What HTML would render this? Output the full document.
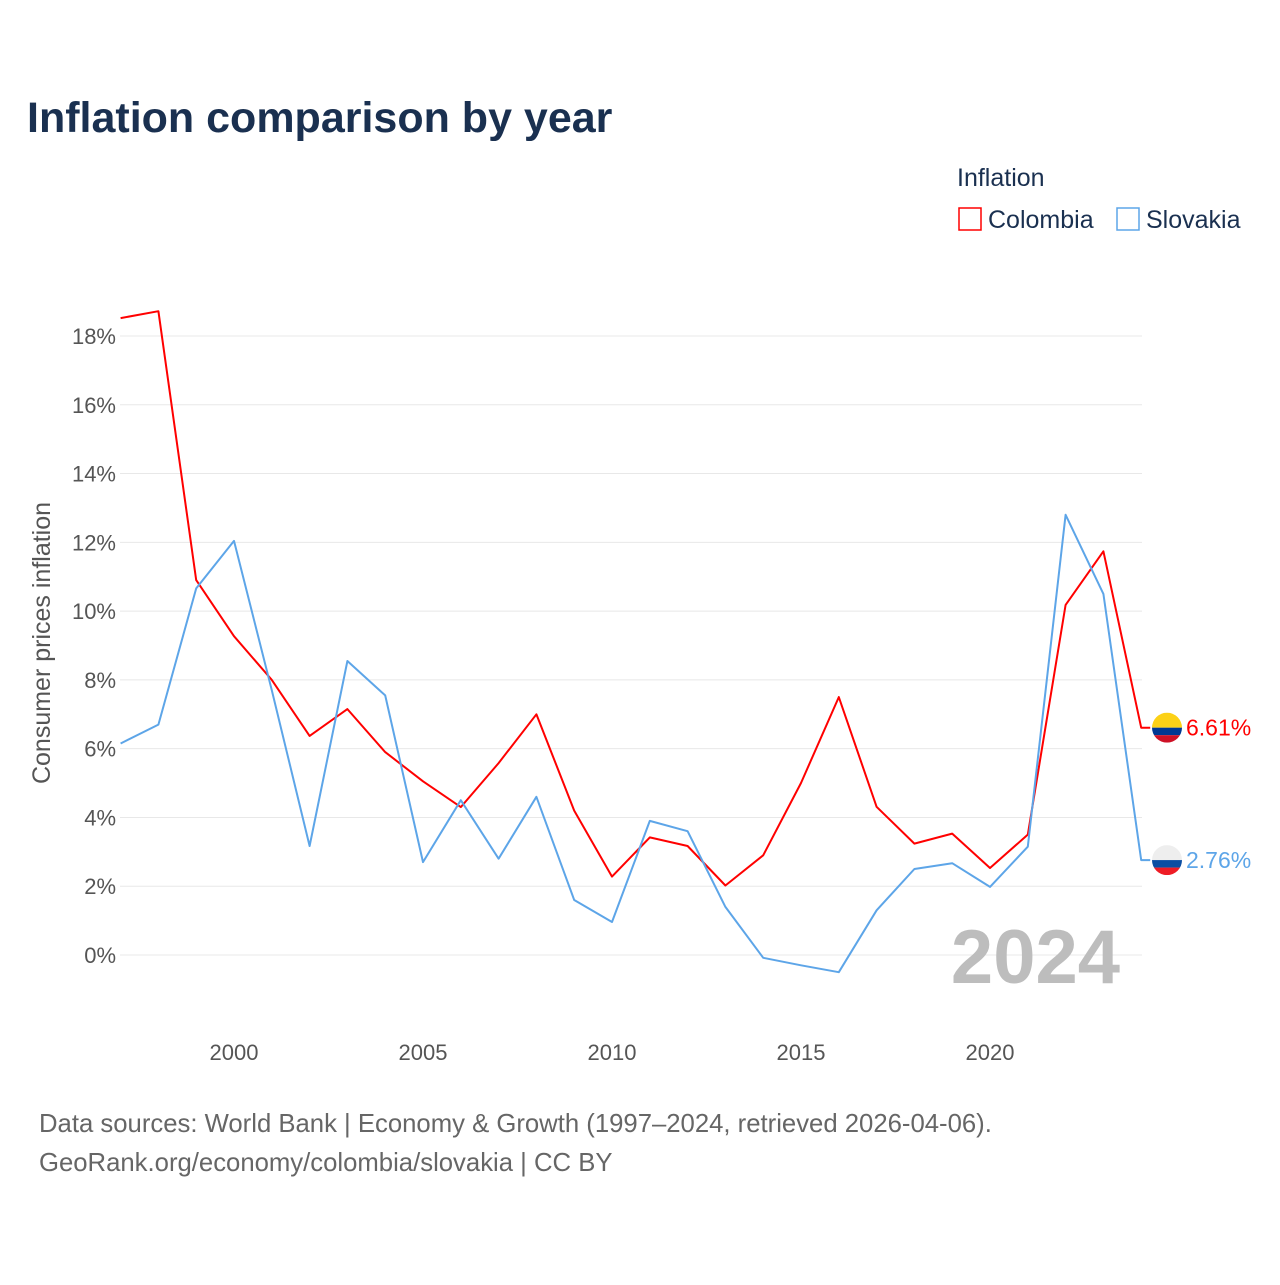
<!DOCTYPE html>
<html><head><meta charset="utf-8"><style>
body{margin:0;background:#fff;font-family:"Liberation Sans",sans-serif}
svg text{font-family:"Liberation Sans",sans-serif}
</style></head><body>
<svg id="chart" width="1280" height="1280" viewBox="0 0 1280 1280">
<text x="27" y="132" font-size="43" font-weight="bold" fill="#1a3050">Inflation comparison by year</text>
<text x="957" y="186" font-size="25" fill="#1a3050">Inflation</text>
<g><rect x="959" y="208" width="22" height="22" fill="none" stroke="#f00" stroke-width="1.5"/><text x="988" y="228" font-size="25" fill="#1a3050">Colombia</text></g>
<g><rect x="1117" y="208" width="22" height="22" fill="none" stroke="#5da5e8" stroke-width="1.5"/><text x="1146" y="228" font-size="25" fill="#1a3050">Slovakia</text></g>
<g id="grid"></g>
<g id="yticks"></g>
<g id="xticks"></g>
<text transform="translate(50,643) rotate(-90)" text-anchor="middle" font-size="25" fill="#555">Consumer prices inflation</text>
<text x="1120" y="983" text-anchor="end" font-size="76" font-weight="bold" fill="#bdbdbd">2024</text>
<g id="series"></g>
<text x="39" y="1132" font-size="25.7" fill="#666">Data sources: World Bank | Economy &amp; Growth (1997–2024, retrieved 2026-04-06).</text>
<text x="39" y="1171" font-size="25.7" fill="#666">GeoRank.org/economy/colombia/slovakia | CC BY</text>
</svg>
<script>
const years=[1997,1998,1999,2000,2001,2002,2003,2004,2005,2006,2007,2008,2009,2010,2011,2012,2013,2014,2015,2016,2017,2018,2019,2020,2021,2022,2023,2024];
const colombia=[18.52,18.72,10.9,9.27,8.0,6.37,7.15,5.9,5.05,4.3,5.58,7.0,4.2,2.28,3.42,3.17,2.02,2.9,5.0,7.5,4.31,3.24,3.53,2.53,3.5,10.18,11.74,6.61];
const slovakia=[6.15,6.7,10.66,12.04,7.7,3.17,8.55,7.55,2.7,4.5,2.8,4.6,1.6,0.96,3.9,3.6,1.4,-0.08,-0.3,-0.5,1.3,2.5,2.67,1.98,3.15,12.8,10.5,2.76];
const yTicks=[0,2,4,6,8,10,12,14,16,18];
const xTicks=[2000,2005,2010,2015,2020];
const NS='http://www.w3.org/2000/svg';
const X=y=>234+(y-2000)*37.8;
const Y=v=>955-v*34.39;
function mk(t,a,p){const e=document.createElementNS(NS,t);for(const k in a)e.setAttribute(k,a[k]);p.appendChild(e);return e;}
const grid=document.getElementById('grid'),yt=document.getElementById('yticks'),xt=document.getElementById('xticks'),se=document.getElementById('series');
yTicks.forEach(v=>{
 const l=mk('line',{x1:120,x2:1142,y1:Y(v),y2:Y(v),stroke:'#e8e8e8','stroke-width':1},grid);
 
 
 const t=mk('text',{x:116,y:Y(v)+8,'text-anchor':'end','font-size':22,fill:'#555'},yt);t.textContent=v+'%';
 
 
});
xTicks.forEach(v=>{
 const t=mk('text',{x:X(v),y:1060,'text-anchor':'middle','font-size':22,fill:'#555'},xt);t.textContent=v;
 
 
});
function line(vals,color,name){
 const last=vals[vals.length-1];
 let d=vals.map((v,i)=>(i?'L':'M')+X(years[i]).toFixed(1)+' '+Y(v).toFixed(1)).join(' ')+' L'+(X(2024)+9)+' '+Y(last).toFixed(1);
 const p=mk('path',{d:d,fill:'none',stroke:color,'stroke-width':2,'stroke-linejoin':'round'},se);
 
 
}
line(colombia,'#f00','colombia');
line(slovakia,'#5da5e8','slovakia');
function flag(v,cols,color,name){
 const cy=Y(v),cx=1167;
 const g=mk('g',{},se);
 
 
 const id='c'+name;
 const cp=mk('clipPath',{id:id},g);mk('circle',{cx:cx,cy:cy,r:15},cp);
 const gg=mk('g',{'clip-path':'url(#'+id+')'},g);
 mk('rect',{x:cx-15,y:cy-15,width:30,height:15,fill:cols[0]},gg);
 mk('rect',{x:cx-15,y:cy,width:30,height:7.5,fill:cols[1]},gg);
 mk('rect',{x:cx-15,y:cy+7.5,width:30,height:7.5,fill:cols[2]},gg);
 const t=mk('text',{x:1186,y:cy+8,'font-size':23,fill:color},g);t.textContent=v.toFixed(2)+'%';
}
flag(colombia[colombia.length-1],['#fcd116','#003893','#ce1126'],'#f00','colombia');
flag(slovakia[slovakia.length-1],['#eeeeee','#0b4ea2','#ee1c25'],'#5da5e8','slovakia');
</script>
</body></html>
